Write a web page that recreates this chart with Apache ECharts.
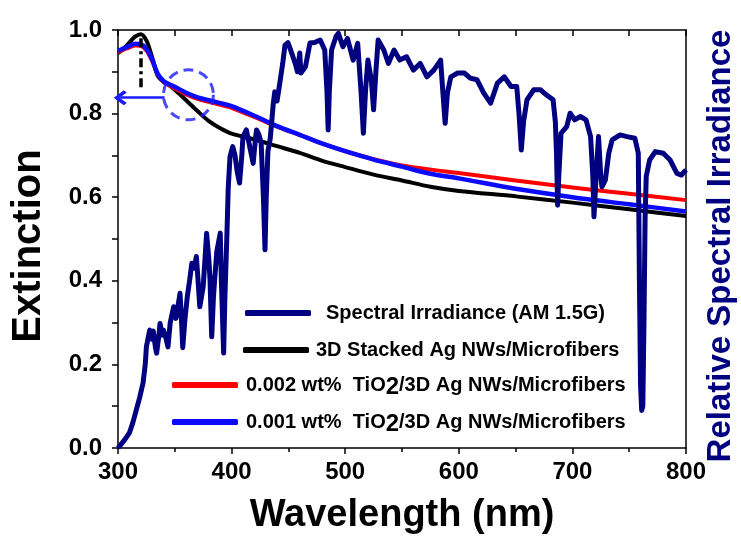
<!DOCTYPE html>
<html>
<head>
<meta charset="utf-8">
<script src="https://cdn.jsdelivr.net/npm/echarts@6/dist/echarts.min.js"></script>
<style>html,body{margin:0;padding:0;background:#fff}#c{width:741px;height:538px}</style>
</head>
<body>
<div id="c"></div>
<script>
// ---- data ----
var extWl = [300,305,310,315,320,325,330,335,340,345,350,360,370,380,390,400,420,440,460,480,500,525,550,575,600,650,700,750,800];
var blackExt = [0.945,0.955,0.970,0.984,0.990,0.975,0.935,0.890,0.876,0.868,0.857,0.832,0.806,0.782,0.765,0.752,0.738,0.722,0.706,0.687,0.672,0.654,0.640,0.625,0.615,0.602,0.587,0.571,0.555];
var redExt = [0.947,0.953,0.958,0.963,0.962,0.951,0.926,0.893,0.876,0.868,0.860,0.846,0.835,0.828,0.821,0.814,0.792,0.769,0.749,0.728,0.710,0.691,0.676,0.666,0.658,0.640,0.623,0.608,0.593];
var blueExt = [0.950,0.956,0.962,0.967,0.966,0.955,0.930,0.895,0.878,0.870,0.864,0.850,0.839,0.832,0.825,0.818,0.795,0.770,0.749,0.728,0.710,0.690,0.673,0.656,0.645,0.620,0.600,0.583,0.566];
var irrWl = [300,303,306,310,313,316,319,322,324,325,327,328,330,331,333,334,336,337,339,340,342,344,346,349,351,352,354.6,356,357,359,361,363,365,367,369,370,372,374,375,377,378,380,381,382.5,384,385,387,390,391,393,394,396,397,398.6,401,403,405,407,409,410,413,416,419,421,422,424,426,428,429.4,430.5,432,434,436.7,438,440,442.6,445,447,449.6,452,456,458,460,461,465,469,473,478,482,484,485,486,488,492,494,498,502,507,511,514,516,518,520,523,525,527,529,534,538,543,548,554,560,566,572,578,584,586,588,590,593,599,605,610,616,622,628,634,640,646,651,653,655,657,660,666,672,677,683,685,686,687,688,690,695,698,702,707,712,716,718,719,721,723,725,726,729,732,735,742,748,755,758,759,760,761,762,763,764,765,768,773,780,786,792,796,800];
var irrVal = [0,0.01,0.02,0.036,0.06,0.09,0.12,0.155,0.2,0.242,0.27,0.282,0.26,0.28,0.24,0.227,0.27,0.298,0.27,0.282,0.265,0.242,0.3,0.338,0.31,0.306,0.37,0.3,0.24,0.31,0.362,0.4,0.442,0.43,0.458,0.42,0.338,0.37,0.386,0.47,0.514,0.45,0.402,0.266,0.36,0.40,0.47,0.514,0.4,0.227,0.35,0.522,0.62,0.697,0.721,0.7,0.66,0.634,0.7,0.745,0.761,0.72,0.681,0.74,0.761,0.75,0.73,0.6,0.474,0.6,0.71,0.74,0.824,0.852,0.83,0.876,0.92,0.964,0.97,0.952,0.92,0.9,0.945,0.897,0.912,0.969,0.97,0.976,0.952,0.85,0.761,0.85,0.952,0.985,0.992,0.96,0.98,0.928,0.968,0.85,0.753,0.86,0.928,0.88,0.809,0.9,0.976,0.952,0.92,0.952,0.928,0.936,0.904,0.92,0.888,0.904,0.928,0.85,0.777,0.85,0.888,0.897,0.897,0.885,0.881,0.849,0.825,0.873,0.888,0.865,0.865,0.8,0.713,0.78,0.833,0.857,0.857,0.845,0.833,0.78,0.705,0.581,0.65,0.753,0.769,0.801,0.785,0.793,0.785,0.745,0.65,0.553,0.657,0.745,0.65,0.625,0.641,0.705,0.737,0.749,0.745,0.741,0.705,0.4,0.15,0.09,0.1,0.3,0.55,0.65,0.689,0.709,0.705,0.689,0.657,0.653,0.665];
var xTicks = [300,400,500,600,700,800];
var yTicks = [0.0,0.2,0.4,0.6,0.8,1.0];
var names = ['Spectral Irradiance (AM 1.5G)','3D Stacked Ag NWs/Microfibers','0.002 wt%  TiO2/3D Ag NWs/Microfibers','0.001 wt%  TiO2/3D Ag NWs/Microfibers'];
// annotations (data coordinates)
var peakMark = [[320,0.98],[320,0.86]];
var arrowMark = [[341,0.838],[302,0.838]];
var circleMark = [[362,0.845]];

function zip(a,b){return a.map(function(v,i){return [v,b[i]];});}

var FONT = 'Liberation Sans, Arial, sans-serif';
var chart = echarts.init(document.getElementById('c'), null, {renderer:'canvas'});
var richTi = {s:{fontSize:24,fontWeight:'bold',fontFamily:FONT,color:'#000',padding:[5,0,0,0]}};
function legendFmt(n){return n.replace('TiO2','TiO{s|2}');}
function mkLegend(name, left, top, pad){
  return {data:[name], left:left, top:top, padding:0, orient:'horizontal',
    itemWidth:66, itemHeight:6, icon:'roundRect', selectedMode:false,
    formatter: legendFmt,
    textStyle:{fontSize:20,fontWeight:'bold',fontFamily:FONT,color:'#000',padding:[0,0,0,pad], rich:richTi}};
}
var option = {
  animation:false,
  backgroundColor:'#fff',
  grid:{left:118,right:55,top:30,bottom:90,containLabel:false,outerBoundsMode:'none'},
  legend:[
    mkLegend(names[0],245,303,10),
    mkLegend(names[1],243,340,2),
    mkLegend(names[2],172,375,3),
    mkLegend(names[3],172,412,3)
  ],
  xAxis:[{
    type:'value', min:300, max:800, interval:100, position:'bottom',
    name:'Wavelength (nm)', nameLocation:'middle', nameGap:49,
    nameTextStyle:{fontSize:38,fontWeight:'bold',fontFamily:FONT,color:'#000'},
    axisLine:{onZero:false,lineStyle:{color:'#000',width:1.5}},
    axisTick:{length:6,lineStyle:{width:1.5,color:'#000'}},
    minorTick:{show:true,splitNumber:2,length:4,lineStyle:{width:1.5,color:'#000'}},
    axisLabel:{fontSize:24,fontWeight:'bold',fontFamily:FONT,color:'#000',margin:12,
      formatter:function(v){return xTicks.indexOf(v)>=0?String(v):'';}},
    splitLine:{show:false}
  },{
    type:'value', min:300, max:800, interval:100, position:'top',
    axisLine:{onZero:false,lineStyle:{color:'#000',width:1.5}},
    axisTick:{inside:true,length:6,lineStyle:{width:1.5,color:'#000'}},
    minorTick:{show:true,splitNumber:2,length:6,lineStyle:{width:1.5,color:'#000'}},
    axisLabel:{show:false}, splitLine:{show:false}
  }],
  yAxis:[{
    type:'value', min:0, max:1, interval:0.2, position:'left',
    name:'Extinction', nameLocation:'middle', nameGap:69,
    nameTextStyle:{fontSize:40,fontWeight:'bold',fontFamily:FONT,color:'#000',padding:[0,14,0,0]},
    axisLine:{show:true,onZero:false,lineStyle:{color:'#000',width:1.5}},
    axisTick:{show:true,length:6,lineStyle:{width:1.5,color:'#000'}},
    minorTick:{show:true,splitNumber:2,length:6,lineStyle:{width:1.5,color:'#000'}},
    axisLabel:{fontSize:24,fontWeight:'bold',fontFamily:FONT,color:'#000',margin:16,
      formatter:function(v){return v.toFixed(1);}},
    splitLine:{show:false}
  },{
    type:'value', min:0, max:1, interval:0.2, position:'right',
    name:'Relative Spectral Irradiance', nameLocation:'middle', nameGap:18,
    nameTextStyle:{fontSize:33,fontWeight:'bold',fontFamily:FONT,color:'#000080',padding:[0,14,0,0]},
    axisLine:{show:true,onZero:false,lineStyle:{color:'#000',width:1.5}},
    axisTick:{show:false}, axisLabel:{show:false}, splitLine:{show:false}
  }],
  series:[
    {name:names[1], type:'line', data:zip(extWl,blackExt), smooth:0.3, showSymbol:false,
     color:'#000', lineStyle:{width:4,color:'#000'}, z:3,
     markLine:{silent:true, symbol:['none','none'], label:{show:false},
       lineStyle:{color:'#000',width:3.5,type:[9,4,3,4]},
       data:[[{coord:peakMark[0]},{coord:peakMark[1]}]]}},
    {name:names[2], type:'line', data:zip(extWl,redExt), smooth:0.3, showSymbol:false,
     color:'#ff0000', lineStyle:{width:4,color:'#ff0000'}, z:3},
    {name:names[3], type:'line', data:zip(extWl,blueExt), smooth:0.3, showSymbol:false,
     color:'#0a0aff', lineStyle:{width:4.5,color:'#0a0aff'}, z:4,
     markLine:{silent:true, symbol:['none','path://M10,0 L20,10 L17,13 L10,6 L3,13 L0,10 Z'], symbolSize:[15,13], label:{show:false},
       lineStyle:{color:'#1a1aff',width:2.5,type:'solid'},
       data:[[{coord:arrowMark[0]},{coord:arrowMark[1]}]]}},
    {name:'circle', type:'scatter', data:circleMark, symbol:'circle', symbolSize:50, silent:true,
     itemStyle:{color:'rgba(0,0,0,0)',borderColor:'#1a1aff',borderWidth:3,borderType:[10,6]}, z:5},
    {name:names[0], type:'line', data:zip(irrWl,irrVal), showSymbol:false,
     color:'#000080', lineStyle:{width:5,color:'#000080',join:'round'}, z:6}
  ]
};
chart.setOption(option);
</script>
</body>
</html>
